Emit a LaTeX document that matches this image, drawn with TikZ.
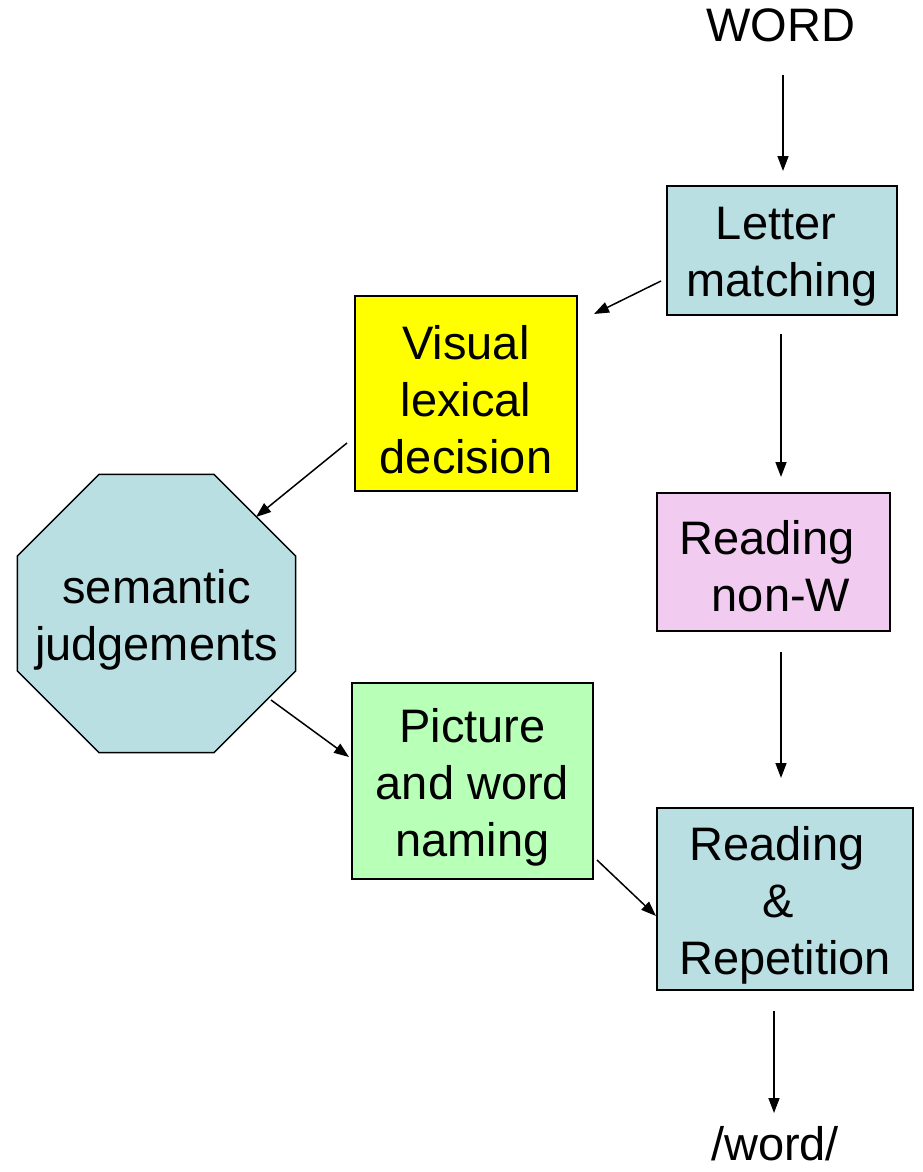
\documentclass[tikz,border=0pt]{standalone}
\usepackage{fontspec}
\setmainfont{Liberation Sans}
\usetikzlibrary{arrows.meta,shapes.geometric}
\definecolor{paleblue}{HTML}{B9DFE3}
\definecolor{palepink}{HTML}{F2CCF0}
\definecolor{palegreen}{HTML}{B8FFB8}
\definecolor{brightyellow}{HTML}{FFFF00}
\newcommand{\padright}[1]{\rule{#1}{0pt}}
\begin{document}
\begin{tikzpicture}[x=1pt,y=-1pt,
  every node/.style={font=\fontsize{47}{57}\selectfont},
  task/.style={draw=black,line width=2pt,inner sep=0pt},
  caption/.style={align=center,inner sep=0pt,yshift=-6pt},
  plain/.style={inner sep=0pt},
  arr/.style={line width=1.5pt,-{Triangle[length=15pt,width=11pt]}}]
\useasboundingbox (0,0) rectangle (922,1172);

% stimulus and response
\node[plain,anchor=base] (word) at (781,42) {WORD};
\node[plain,anchor=base] (say) at (775,1160) {/word/};

% processing stages
\node[task,fill=paleblue,minimum width=230pt,minimum height=129pt,
  label={[caption]center:Letter\padright{12pt}\\matching}] (lm) at (782,250.5) {};
\node[task,fill=brightyellow,minimum width=222pt,minimum height=195pt,
  label={[caption]center:Visual\\lexical\\decision}] (vld) at (466,393.5) {};
\node[task,fill=palepink,minimum width=233pt,minimum height=138pt,
  label={[caption,yshift=2pt]center:Reading\padright{13pt}\\\padright{15pt}non-W}] (rnw) at (773.5,562) {};
\node[task,fill=paleblue,regular polygon,regular polygon sides=8,minimum size=301pt,
  line width=1.5pt,
  label={[caption]center:semantic\\judgements}] (sj) at (156.5,613.5) {};
\node[task,fill=palegreen,minimum width=241pt,minimum height=196pt,
  label={[caption]center:Picture\\and word\\naming}] (pwn) at (472.5,781) {};
\node[task,fill=paleblue,minimum width=256pt,minimum height=182pt,
  label={[caption]center:Reading\padright{16pt}\\\&\padright{14pt}\\Repetition}] (rr) at (785,899) {};

% connections
\draw[arr] ([xshift=2pt,yshift=-33pt]word.base) -- ([xshift=1pt,yshift=14pt]lm.north);
\draw[arr] ([xshift=-5pt,yshift=-30.5pt]lm.west) -- ([xshift=16pt,yshift=-19pt]vld.north east);
\draw[arr] ([xshift=-1pt,yshift=-18pt]lm.south) -- ([xshift=7.5pt,yshift=15pt]rnw.north);
\draw[arr] ([xshift=-7pt,yshift=-49.5pt]vld.west) -- ([xshift=99.5pt,yshift=96.5pt]sj.center);
\draw[arr] ([xshift=114.5pt,yshift=-86.5pt]sj.center) -- ([xshift=-2pt,yshift=24pt]pwn.west);
\draw[arr] ([xshift=3pt,yshift=-79pt]pwn.east) -- ([yshift=-17pt]rr.west);
\draw[arr] ([xshift=7.5pt,yshift=-20pt]rnw.south) -- ([xshift=-4pt,yshift=29pt]rr.north);
\draw[arr] ([xshift=-11pt,yshift=-20pt]rr.south) -- ([xshift=-1pt,yshift=47pt]say.base);
\end{tikzpicture}
\end{document}
